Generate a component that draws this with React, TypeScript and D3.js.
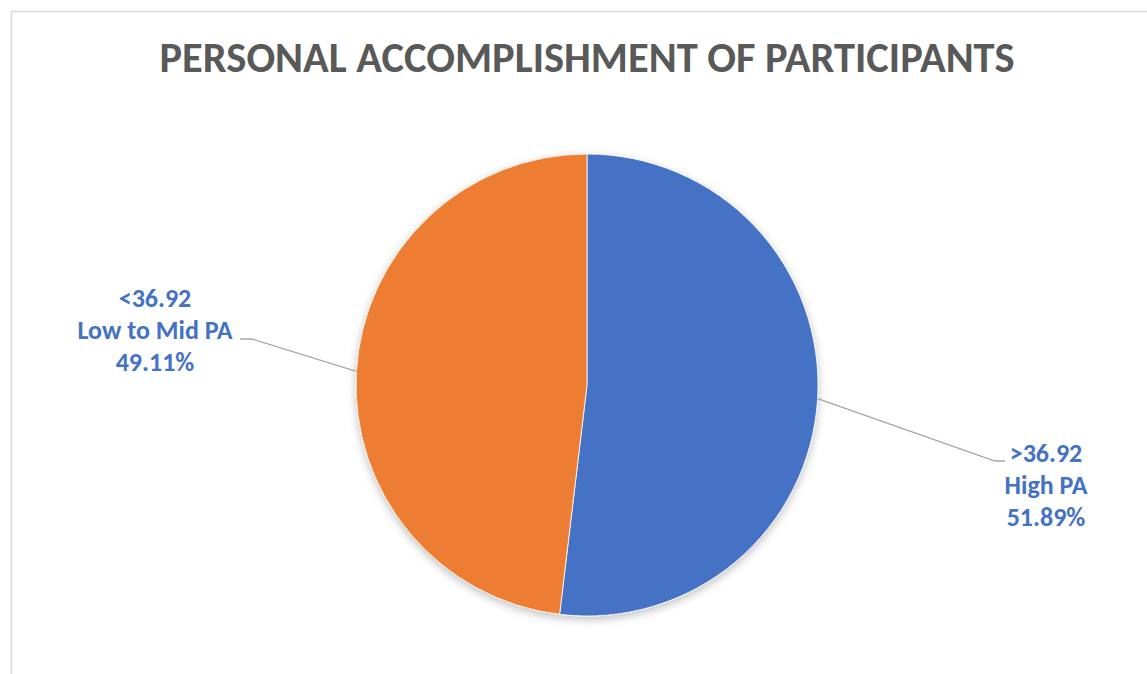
import React from "react";
import * as d3 from "d3";

const categories = ["High PA", "Low to Mid PA"];
const thresholds = [">36.92", "<36.92"];
const values = [51.89, 49.11];
const colors = ["#4472C4", "#ED7D31"];
const title = "PERSONAL ACCOMPLISHMENT OF PARTICIPANTS";

const W = 1147;
const H = 674;
const cx = 587;
const cy = 385;
const R = 231;

// label layout: elbow point, end point, text centre x, first baseline
const labelLayout = [
  { elbow: [995, 461], end: [1005, 461], tx: 1046, ty: 462 },
  { elbow: [252, 339], end: [240, 339], tx: 155, ty: 307 },
];

export default function App() {
  // slices drawn as percent of a full circle (the High PA slice spans 51.89%, the rest is Low to Mid)
  const angle = d3.scaleLinear().domain([0, 100]).range([0, 2 * Math.PI]);
  const slices = [
    { startAngle: angle(0), endAngle: angle(values[0]) },
    { startAngle: angle(values[0]), endAngle: angle(100) },
  ];
  const arc = d3.arc<{ startAngle: number; endAngle: number }>().innerRadius(0).outerRadius(R);
  const font = "Calibri, Carlito, 'Open Sans', 'Noto Sans', sans-serif";

  return (
    <div style={{ position: "absolute", left: 0, top: 0, width: W, height: H, background: "#fff" }}>
      <svg width={W} height={H} style={{ display: "block" }}>
        <defs>
          <filter id="sh" x="-20%" y="-20%" width="140%" height="140%">
            <feDropShadow dx="0" dy="3" stdDeviation="4" floodColor="#000" floodOpacity="0.25" />
          </filter>
        </defs>
        <rect x={11.5} y={11.5} width={W} height={H} fill="#fff" stroke="#d9d9d9" strokeWidth={1.5} />
        <text
          x={587}
          y={72}
          textAnchor="middle"
          fontFamily={font}
          fontWeight="bold"
          fontSize={43}
          fill="#595959"
          textLength={855}
          lengthAdjust="spacingAndGlyphs"
        >
          {title}
        </text>
        <g transform={`translate(${cx},${cy})`} filter="url(#sh)">
          {slices.map((p, i) => (
            <path key={i} d={arc(p) || ""} fill={colors[i]} stroke="#fff" strokeWidth={0.8} />
          ))}
        </g>
        {slices.map((p, i) => {
          const mid = (p.startAngle + p.endAngle) / 2;
          const ax = cx + R * Math.sin(mid);
          const ay = cy - R * Math.cos(mid);
          const L = labelLayout[i];
          const pct = d3.format(".2f")(values[i]) + "%";
          const lines = [thresholds[i], categories[i], pct];
          return (
            <g key={"l" + i}>
              <polyline
                points={`${ax},${ay} ${L.elbow[0]},${L.elbow[1]} ${L.end[0]},${L.end[1]}`}
                fill="none"
                stroke="#a6a6a6"
                strokeWidth={1.3}
              />
              <text textAnchor="middle" fontFamily={font} fontWeight="bold" fontSize={26} fill="#4472C4">
                {lines.map((t, j) => (
                  <tspan key={j} x={L.tx} y={L.ty + j * 32}>
                    {t}
                  </tspan>
                ))}
              </text>
            </g>
          );
        })}
      </svg>
    </div>
  );
}
